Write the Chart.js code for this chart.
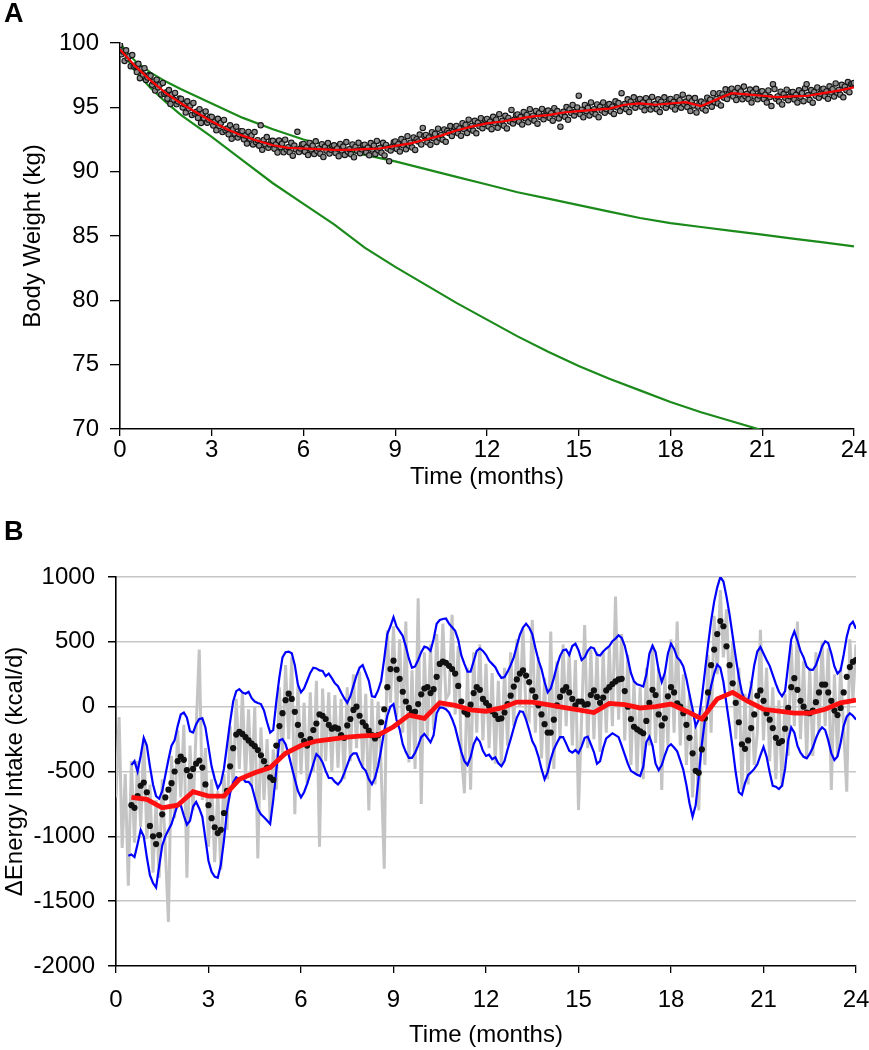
<!DOCTYPE html>
<html>
<head>
<meta charset="utf-8">
<script src="https://cdn.jsdelivr.net/npm/chart.js@4.4.1/dist/chart.umd.min.js"></script>
<style>
  body { margin: 0; background: #fff; width: 869px; height: 1050px; position: relative; overflow: hidden; font-family: Arial, "Liberation Sans", sans-serif; }
  canvas { position: absolute; left: 0; }
  #chartA { top: 0; }
  #chartB { top: 520px; }
  .panel { position: absolute; left: 4px; font-weight: bold; font-size: 27px; line-height: 1; color: #000; z-index: 2; }
</style>
</head>
<body>
<div class="panel" style="top:0px">A</div>
<div class="panel" style="top:518px">B</div>
<canvas id="chartA" width="869" height="520"></canvas>
<canvas id="chartB" width="869" height="530"></canvas>
<script>
// shared x axis
const monthTicks = [0, 3, 6, 9, 12, 15, 18, 21, 24];

// ---- panel A: body weight ----
const weightTicks = [70, 75, 80, 85, 90, 95, 100];

// measured weights, every 0.05 month from 0
const weightObs = [
  99.85, 99.12, 99.34, 98.61, 99.43, 98.8, 98.97, 98.19, 99.06, 98.18,
  98.25, 97.74, 98.38, 97.27, 97.96, 97.55, 98.04, 97.13, 97.32, 97.51,
  97.45, 96.75, 97.0, 96.3, 97.15, 96.55, 96.75, 96.0, 96.9, 96.05,
  96.15, 95.67, 96.34, 95.26, 95.98, 95.6, 96.12, 95.24, 95.46, 95.68,
  95.65, 94.98, 95.26, 94.59, 95.47, 94.9, 95.13, 94.41, 95.34, 94.52,
  94.65, 94.18, 94.86, 93.79, 94.52, 94.15, 94.68, 93.81, 94.04, 94.27,
  94.25, 93.59, 93.88, 93.22, 94.11, 93.55, 93.79, 93.08, 94.02, 93.21,
  93.35, 92.9, 93.6, 92.55, 93.3, 92.95, 93.5, 92.65, 92.9, 93.15,
  93.15, 92.51, 92.82, 92.18, 93.09, 92.55, 92.81, 92.12, 93.08, 92.29,
  92.45, 92.02, 93.6, 91.7, 92.46, 92.13, 92.69, 91.86, 92.12, 92.39,
  92.4, 91.78, 92.11, 91.49, 92.42, 91.9, 92.18, 91.51, 92.49, 91.72,
  91.9, 91.5, 92.24, 91.24, 92.03, 91.73, 93.1, 91.52, 91.81, 92.11,
  92.15, 91.55, 91.89, 91.29, 92.23, 91.73, 92.02, 91.37, 92.36, 91.61,
  91.8, 91.4, 92.14, 91.14, 91.93, 91.63, 92.22, 91.41, 91.71, 92.0,
  92.05, 91.45, 91.8, 91.2, 92.15, 91.65, 91.95, 91.3, 92.3, 91.55,
  91.75, 91.36, 92.11, 91.12, 91.92, 91.63, 92.24, 91.44, 91.74, 92.05,
  92.1, 91.5, 91.86, 91.27, 92.22, 91.72, 92.03, 91.38, 92.39, 91.65,
  91.85, 91.47, 92.24, 91.26, 92.08, 91.8, 90.8, 91.64, 91.96, 92.28,
  92.35, 91.77, 92.14, 91.56, 92.53, 92.05, 92.31, 91.74, 92.76, 92.03,
  92.25, 91.88, 92.66, 91.69, 92.52, 92.35, 92.88, 92.11, 93.4, 92.77,
  92.85, 92.28, 92.66, 92.09, 93.07, 92.6, 92.93, 92.31, 93.34, 92.62,
  92.85, 92.49, 93.28, 92.32, 93.16, 93.0, 93.54, 92.78, 93.12, 93.46,
  93.55, 92.98, 93.36, 92.79, 93.77, 93.3, 93.63, 93.01, 94.04, 93.32,
  93.55, 93.18, 93.95, 92.98, 93.8, 93.53, 94.15, 93.38, 93.7, 94.02,
  94.1, 93.52, 93.88, 93.3, 94.26, 93.78, 94.04, 93.41, 94.47, 93.74,
  93.95, 93.57, 94.34, 93.36, 94.18, 93.9, 94.8, 93.74, 94.06, 94.38,
  94.45, 93.87, 94.24, 93.66, 94.63, 94.15, 94.41, 93.84, 94.86, 94.13,
  94.35, 93.96, 94.72, 93.73, 94.54, 94.25, 94.88, 94.07, 94.38, 94.69,
  94.75, 94.17, 94.54, 93.96, 94.93, 94.45, 94.71, 94.14, 93.5, 94.43,
  94.65, 94.26, 95.02, 94.03, 94.84, 94.55, 95.18, 94.37, 94.68, 94.99,
  95.9, 94.46, 94.82, 94.23, 95.19, 94.7, 94.96, 94.37, 95.38, 94.64,
  94.85, 94.46, 95.22, 94.23, 95.04, 94.75, 95.38, 94.57, 94.88, 95.19,
  95.25, 94.68, 95.06, 94.49, 95.47, 95.0, 95.33, 94.71, 96.1, 95.02,
  95.25, 94.86, 95.62, 94.63, 95.44, 95.15, 95.78, 94.97, 95.28, 95.59,
  95.65, 95.04, 95.38, 94.77, 95.71, 95.2, 95.44, 94.83, 95.81, 95.06,
  95.25, 94.86, 95.62, 94.63, 95.44, 95.15, 95.78, 94.97, 95.28, 95.59,
  95.65, 95.06, 95.42, 94.83, 95.79, 95.3, 95.56, 94.97, 95.98, 95.24,
  95.45, 95.02, 95.74, 94.71, 95.48, 95.15, 95.72, 94.6, 95.06, 95.33,
  95.45, 94.9, 95.3, 94.75, 95.75, 95.3, 95.6, 95.05, 96.1, 95.4,
  95.65, 95.3, 96.1, 95.15, 96.0, 95.75, 96.4, 95.65, 96.0, 96.35,
  96.45, 95.84, 96.18, 95.57, 96.51, 96.0, 96.24, 95.63, 96.61, 95.86,
  96.05, 95.64, 96.38, 95.37, 96.16, 95.85, 96.44, 95.63, 95.92, 96.21,
  96.25, 95.64, 95.98, 95.37, 96.31, 95.8, 95.1, 96.8, 96.42, 95.66,
  95.85, 95.45, 96.21, 95.22, 96.03, 95.74, 96.37, 95.56, 95.87, 96.18,
  96.2, 95.61, 95.96, 95.37, 96.32, 95.83, 96.11, 95.48, 96.49, 96.8,
  95.95, 95.57, 96.34, 95.36, 96.18, 95.9, 96.54, 95.74, 96.06, 96.38,
  96.45, 95.87, 96.24, 95.66, 96.63, 96.15, 96.41, 95.84, 96.86, 96.13,
  96.35, 95.98, 96.75, 95.78, 96.6, 96.33, 96.96, 96.18, 96.8, 96.83,
  96.9
];

// fitted weight, every 0.5 month from 0
const weightFit = [
  99.5, 98.2, 97.1, 96.1, 95.3, 94.6, 93.9, 93.3, 92.8, 92.4,
  92.05, 91.85, 91.8, 91.75, 91.7, 91.7, 91.75, 91.8, 92.0, 92.2,
  92.5, 92.8, 93.2, 93.5, 93.75, 93.9, 94.1, 94.3, 94.4, 94.6,
  94.7, 94.8, 94.9, 95.2, 95.3, 95.2, 95.3, 95.4, 95.1, 95.6,
  96.1, 96.0, 95.9, 95.8, 95.85, 95.9, 96.1, 96.3, 96.55
];

const slowTimes = [0, 0.25, 0.5, 1, 1.5, 2, 3, 4, 5, 6, 7, 8, 9, 10, 11, 12, 13, 14, 15, 16, 17, 18, 19, 20, 21, 22, 23, 24];
const slowModel = [100, 99.2, 98.6, 97.7, 97.0, 96.4, 95.3, 94.2, 93.3, 92.5, 91.9, 91.3, 90.8, 90.2, 89.6, 89.0, 88.4, 87.9, 87.4, 86.9, 86.4, 86.0, 85.7, 85.4, 85.1, 84.8, 84.5, 84.2];

const fastTimes = [0, 0.25, 0.5, 1, 1.5, 2, 3, 4, 5, 6, 7, 8, 9, 10, 11, 12, 13, 14, 15, 16, 17, 18, 19, 20, 21];
const fastModel = [100, 98.7, 97.8, 96.5, 95.4, 94.4, 92.7, 90.9, 89.1, 87.5, 85.9, 84.1, 82.6, 81.2, 79.8, 78.5, 77.2, 76.0, 74.9, 73.9, 73.0, 72.1, 71.3, 70.6, 69.9];

// ---- panel B: change in energy intake ----
const energyTicks = [-2000, -1500, -1000, -500, 0, 500, 1000];

// raw daily intake, every 0.1 month from 0
const intakeRaw = [
  -700, -80, -1090, -520, -1380, -420, -1050, -420, -930, -250,
  -1020, -600, -1280, -720, -1320, -560, -1100, -1660, -380, -860,
  -180, -700, -140, -1320, -300, -800, -170, 440, -720, -320,
  -1080, -560, -1200, -650, -1260, -520, -950, -150, -620, 60,
  -480, 110, -560, -20, -620, 0, -1170, -160, -720, -250,
  -880, -330, -640, 150, -380, 320, -250, 380, -830, 160,
  -520, 30, -600, 110, -500, 200, -1080, 140, -420, 110,
  -500, 90, -470, 60, -560, 150, -420, 250, -320, 270,
  -470, 100, -800, 60, -600, 40, -480, -1250, 590, 30,
  620, -80, 520, -200, 656, -430, 280, -480, 836, -750,
  420, -230, 480, -180, 560, -20, 640, 60, 100, 708,
  -60, 470, -360, -668, 300, -640, 420, -200, 480, -260,
  330, -320, 260, -440, 200, -460, 300, -300, 420, -150,
  520, 0, 600, -60, -100, 669, -200, 380, -400, 220,
  -560, 579, -480, 350, -250, 480, -150, 420, -300, 360,
  -797, -100, 630, -320, 440, -250, 420, -350, 430, -200,
  460, -150, 849, -100, 560, -260, 400, -450, 200, -520,
  150, -560, 300, -300, 480, -280, 300, -643, 250, -300,
  520, -200, 656, -300, 250, -450, 100, -700, -150, -800,
  0, -450, 400, -200, 700, 250, 900, 380, 750, 100,
  500, -250, 300, -640, 100, -600, 200, -450, -200, 592,
  -260, 300, -420, 150, -560, 50, -620, 100, -380, 480,
  -150, 656, -250, 350, -400, 300, -380, 420, -200, 500,
  -150, 450, -643, 250, -380, 300, -180, -655, 520, 50,
  480
];

// moving average, every 0.1 month from 0.5
const intakeAvg = [
  -760, -780, -690, -610, -585,
  -660, -920, -1000, -1060, -990, -830, -700, -640, -590, -500,
  -420, -385, -410, -490, -535, -480, -440, -415, -470, -600,
  -760, -860, -930, -975, -950, -820, -650, -460, -320, -215,
  -195, -210, -235, -260, -285, -305, -335, -375, -420, -470,
  -545, -565, -300, -150, -50, 50, 100, 60, -40, -140,
  -220, -265, -300, -250, -180, -130, -60, -70, -95, -140,
  -170, -160, -170, -220, -240, -145, -95, -25, 0, -70,
  -120, -150, -185, -220, -245, -220, -120, -20, 150, 290,
  355, 285, 215, 115, 40, -10, -45, -40, 20, 95,
  140, 150, 105, 135, 230, 330, 348, 338, 315, 290,
  255, 160, 40, -40, -60, 15, 105, 150, 130, 60,
  30, 5, -35, -65, -95, -90, -45, 20, 85, 155,
  210, 255, 280, 240, 190, 125, 75, 10, -60, -135,
  -200, -200, -100, 10, 75, 125, 150, 110, 60, 10,
  40, 40, 15, 20, 90, 125, 75, 30, 70, 125,
  150, 175, 195, 210, 215, 120, 0, -95, -155, -175,
  -190, -205, -110, 30, 130, 90, -60, -145, -90, 80,
  150, 110, 25, 0, -50, -140, -240, -360, -495, -510,
  -330, -90, 110, 320, 440, 560, 660, 620, 465, 320,
  180, 30, -120, -290, -325, -260, -165, -60, 85, 125,
  45, -50, -100, -165, -240, -280, -265, -170, -10, 150,
  220, 130, 45, 0, -45, -50, -30, 35, 110, 170,
  170, 110, 45, -30, -65, -10, 110, 230, 305, 345,
  360
];

// upper band, every 0.1 month from 0.5
const intakeUpper = [
  -450, -420, -500, -380, -240,
  -300, -460, -600, -690, -710, -650, -530, -410, -300, -260,
  -150, -60, -45, -85, -190, -200, -135, -95, -90, -160,
  -310, -460, -555, -630, -590, -480, -300, -120, 40, 120,
  135, 110, 100, 115, 65, 40, 28, 20, -30, -120,
  -200, -180, 40, 230, 380, 420, 425, 412, 320, 170,
  110, 140, 200, 260, 300, 295, 280, 275, 235, 255,
  220, 180, 158, 110, 65, 30, 80, 160, 240, 300,
  320, 260, 200, 80, 75, 125, 200, 370, 560, 620,
  690, 618, 583, 545, 465, 370, 300, 310, 360, 420,
  463, 455, 430, 520, 640, 668, 676, 680, 640, 612,
  585, 515, 395, 330, 270, 270, 350, 430, 450, 430,
  400, 355, 330, 305, 257, 222, 228, 270, 320, 380,
  470, 555, 610, 640, 610, 560, 455, 360, 290, 190,
  110, 140, 220, 315, 390, 435, 440, 400, 468, 485,
  435, 360, 380, 430, 458, 450, 400, 395, 425, 448,
  468, 505, 525, 550, 530, 470, 370, 260, 195, 172,
  165, 155, 245, 410, 470, 420, 280, 190, 260, 410,
  485, 445, 380, 355, 309, 215, 95, -20, -150, -100,
  70, 270, 470, 660, 810, 920, 1000, 965, 849, 710,
  545, 380, 230, 110, 45, 50, 160, 320, 425, 460,
  410, 360, 315, 245, 175, 115, 80, 120, 320, 520,
  580, 510, 430, 380, 309, 285, 283, 320, 390, 465,
  505, 490, 410, 310, 255, 280, 400, 540, 630, 655,
  600
];

// lower band, every 0.1 month from 0.4
const intakeLower = [
  -1150, -1140, -1160, -1060, -950, -1000,
  -1160, -1300, -1360, -1395, -1230, -1070, -1000, -951, -905, -830,
  -755, -760, -840, -910, -880, -770, -735, -785, -850, -1020,
  -1190, -1273, -1310, -1320, -1220, -1035, -800, -668, -585, -545,
  -560, -545, -580, -580, -610, -700, -790, -830, -853, -878,
  -905, -720, -490, -260, -250, -290, -370, -465, -560, -650,
  -700, -660, -595, -520, -440, -365, -390, -430, -495, -550,
  -550, -580, -600, -570, -515, -450, -385, -360, -360, -420,
  -470, -495, -560, -598, -550, -460, -330, -185, -70, 0,
  20, -103, -175, -290, -350, -395, -395, -355, -300, -235,
  -210, -240, -275, -220, -51, -5, -8, -20, -45, -95,
  -160, -257, -350, -420, -450, -390, -290, -240, -270, -340,
  -380, -370, -405, -390, -437, -460, -420, -330, -250, -165,
  -85, -35, -40, -100, -180, -265, -310, -385, -480, -560,
  -505, -405, -330, -280, -235, -235, -285, -340, -355, -335,
  -358, -308, -240, -231, -290, -350, -440, -420, -320, -245,
  -225, -205, -220, -235, -300, -370, -440, -495, -510, -525,
  -535, -463, -275, -230, -300, -440, -490, -450, -375, -310,
  -290, -315, -345, -415, -488, -605, -745, -848, -760, -540,
  -290, -103, 35, 160, 255, 325, 300, 190, 20, -145,
  -320, -510, -660, -680, -590, -528, -505, -480, -445, -375,
  -310, -385, -505, -610, -617, -635, -610, -480, -260, -160,
  -200, -300, -355, -387, -398, -365, -315, -245, -190, -160,
  -180, -260, -360, -411, -385, -280, -150, -77, -51, -70,
  -100
];

// model estimate, every 0.5 month from 0.5
const intakeModel = [
  -700, -715, -780, -760, -655, -690, -690, -560, -510, -470,
  -360, -300, -265, -250, -235, -225, -220, -155, -65, -90,
  30, 10, -25, -35, -10, 35, 35, 15, -5, -25,
  -45, 25, 15, -10, 0, 20, -35, -95, 60, 110,
  40, -20, -35, -50, -50, -20, 30, 50
];

const FONT = { family: 'Arial, "Liberation Sans", sans-serif', size: 24 };

function onGrid(start, step, values) {
  return values.map((v, i) => ({ x: Math.round((start + i * step) * 100) / 100, y: v }));
}
function pairs(xs, ys) {
  return xs.map((x, i) => ({ x: x, y: ys[i] }));
}
function line(data, color, width) {
  return { data: data, showLine: true, borderColor: color, borderWidth: width, pointRadius: 0, fill: false, tension: 0 };
}

function monthAxis(height, labelPad, titlePad) {
  return {
    type: 'linear', min: 0, max: 24,
    afterBuildTicks: s => { s.ticks = monthTicks.map(v => ({ value: v })); },
    afterFit: s => { s.height = height; s.paddingLeft = 0; s.paddingRight = 0; },
    ticks: { font: FONT, color: '#000', padding: labelPad, maxRotation: 0, callback: v => String(v) },
    grid: { drawOnChartArea: false, tickLength: 7, color: '#000', lineWidth: 1.3 },
    border: { color: '#000', width: 1.6 },
    title: { display: true, text: 'Time (months)', font: FONT, color: '#000', padding: { top: 0, bottom: titlePad } }
  };
}

const common = {
  animation: false,
  responsive: false,
  devicePixelRatio: 1,
  events: [],
  plugins: { legend: { display: false }, tooltip: { enabled: false } }
};

new Chart(document.getElementById('chartA'), {
  type: 'scatter',
  data: {
    datasets: [
      line(onGrid(0, 0.5, weightFit), '#ff0000', 2.2),
      { data: onGrid(0, 0.05, weightObs), pointRadius: 2.7, backgroundColor: '#8e8e8e', borderColor: '#161616', borderWidth: 1.1 },
      line(pairs(slowTimes, slowModel), '#1b8a1b', 2.2),
      line(pairs(fastTimes, fastModel), '#1b8a1b', 2.2)
    ]
  },
  options: Object.assign({}, common, {
    layout: { padding: { top: 43, right: 15, bottom: 0, left: 0 } },
    scales: {
      x: monthAxis(91, 0, 28),
      y: {
        min: 70, max: 100,
        afterBuildTicks: s => { s.ticks = weightTicks.map(v => ({ value: v })); },
        afterFit: s => { s.width = 120; },
        ticks: { font: FONT, color: '#000', padding: 11, callback: v => String(v) },
        grid: { drawOnChartArea: false, tickLength: 10, color: '#000', lineWidth: 1.3 },
        border: { color: '#000', width: 1.6 },
        title: { display: true, text: 'Body Weight (kg)', font: FONT, color: '#000', padding: { top: 19, bottom: 0 } }
      }
    }
  })
});

new Chart(document.getElementById('chartB'), {
  type: 'scatter',
  data: {
    datasets: [
      line(onGrid(0.5, 0.5, intakeModel), '#ff1010', 4.8),
      { data: onGrid(0.5, 0.1, intakeAvg), pointRadius: 3.1, backgroundColor: '#111', borderWidth: 0 },
      line(onGrid(0.5, 0.1, intakeUpper), '#0000ff', 2.2),
      line(onGrid(0.4, 0.1, intakeLower), '#0000ff', 2.2),
      line(onGrid(0, 0.1, intakeRaw), '#c4c4c4', 3)
    ]
  },
  options: Object.assign({}, common, {
    layout: { padding: { top: 57, right: 13, bottom: 0, left: 0 } },
    scales: {
      x: monthAxis(84, 13, 0),
      y: {
        min: -2000, max: 1000,
        afterBuildTicks: s => { s.ticks = energyTicks.map(v => ({ value: v })); },
        afterFit: s => { s.width = 116; },
        ticks: { font: FONT, color: '#000', padding: 13, callback: v => String(v) },
        grid: {
          drawOnChartArea: true, tickLength: 8, lineWidth: 1.5, tickColor: '#000',
          color: ctx => (ctx.tick && ctx.tick.value === -2000) ? 'rgba(0,0,0,0)' : '#c6c6c6'
        },
        border: { color: '#000', width: 1.6 },
        title: { display: true, text: 'ΔEnergy Intake (kcal/d)', font: FONT, color: '#000', padding: { top: 1, bottom: 0 } }
      }
    }
  })
});
</script>
</body>
</html>
